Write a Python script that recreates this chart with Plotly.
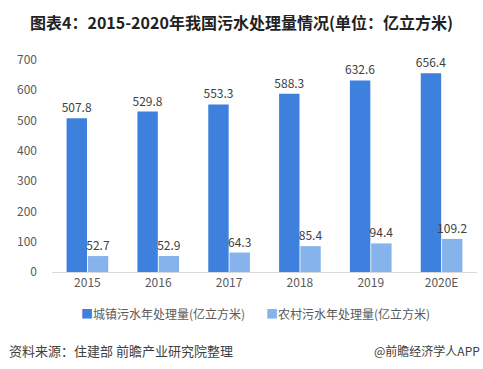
import plotly.graph_objects as go

years = ["2015", "2016", "2017", "2018", "2019", "2020E"]
urban = [507.8, 529.8, 553.3, 588.3, 632.6, 656.4]
rural = [52.7, 52.9, 64.3, 85.4, 94.4, 109.2]
series_names = ["城镇污水年处理量(亿立方米)", "农村污水年处理量(亿立方米)"]
colors = ["#3d80dd", "#87b3ec"]
y_ticks = [0, 100, 200, 300, 400, 500, 600, 700]

FONT = "Noto Sans CJK SC, Open Sans, sans-serif"
W, H = 483, 369
ML, MR, MT, MB = 52, 6, 60, 97
PW, PH = W - ML - MR, H - MT - MB


def px(x):
    return (x - ML) / PW


def py(y):
    return (H - MB - y) / PH


fig = go.Figure()
for vals, name, col in zip([urban, rural], series_names, colors):
    fig.add_trace(go.Bar(
        x=years, y=vals, name=name, marker_color=col, marker_line_width=0,
        text=[f"{v:.1f}" for v in vals], textposition="outside",
        constraintext="none",
        textfont=dict(size=12, color="#404040", family=FONT),
        cliponaxis=False, showlegend=False,
    ))

fig.update_layout(
    width=W, height=H,
    margin=dict(l=ML, r=MR, t=MT, b=MB),
    paper_bgcolor="white", plot_bgcolor="white",
    barmode="group", bargap=0.4, bargroupgap=0.04,
    font=dict(family=FONT, color="#595959", size=12),
    xaxis=dict(showline=True, linecolor="#d9d9d9", linewidth=1, ticks="",
               tickfont=dict(size=12, color="#595959")),
    yaxis=dict(range=[0, 700], tickvals=y_ticks, showgrid=False, zeroline=False,
               showline=False, ticks="", ticklabelstandoff=14,
               tickfont=dict(size=12, color="#595959")),
)

fig.add_annotation(text="<b>图表4：2015-2020年我国污水处理量情况(单位：亿立方米)</b>",
                   xref="paper", yref="paper", x=px(241), xanchor="center",
                   y=py(22), yanchor="middle", showarrow=False,
                   font=dict(size=16, color="#222222", family=FONT))

# legend as annotations
leg_x = [79, 264]
for lx, name, col in zip(leg_x, series_names, colors):
    fig.add_annotation(text=f"<span style='color:{col}'>■</span>{name}",
                       xref="paper", yref="paper",
                       x=px(lx), xanchor="left",
                       y=py(313), yanchor="middle",
                       showarrow=False, font=dict(size=12, color="#595959", family=FONT))

fig.add_annotation(text="资料来源：住建部 前瞻产业研究院整理", xref="paper", yref="paper",
                   x=px(7), xanchor="left",
                   y=py(350), yanchor="middle", showarrow=False,
                   font=dict(size=13, color="#404040", family=FONT))
fig.add_annotation(text="@前瞻经济学人APP", xref="paper", yref="paper",
                   x=px(482), xanchor="right",
                   y=py(350), yanchor="middle", showarrow=False,
                   font=dict(size=12, color="#404040", family=FONT))

fig.write_html("out.html", config={"displayModeBar": False},
               post_script="document.body.style.margin='0';")
